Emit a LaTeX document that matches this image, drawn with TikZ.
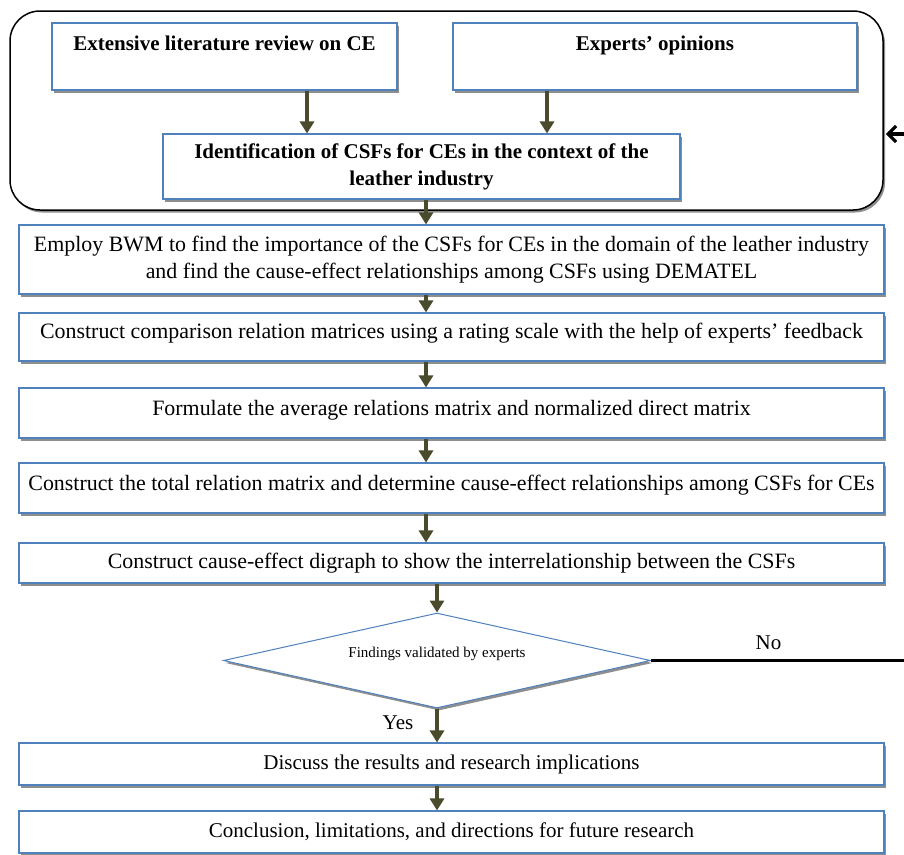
\documentclass[tikz,border=0pt]{standalone}
\usepackage{fontspec}
\setmainfont{Liberation Serif}
\usetikzlibrary{arrows.meta,shadows,shapes.geometric}
\definecolor{boxblue}{HTML}{4F81BD}
\definecolor{arrowc}{HTML}{4A4A2C}
\definecolor{shadowc}{HTML}{8E8E8E}
\begin{document}
\begin{tikzpicture}[x=1pt,y=-1pt,
  shadowed/.style={drop shadow={shadow xshift=2pt,shadow yshift=-2.5pt,fill=shadowc,opacity=1}},
  box/.style={draw=boxblue,line width=1.1pt,fill=white,shadowed,inner sep=0pt,align=center,
    font=\fontsize{21}{27}\selectfont},
  widebox/.style={box,font=\fontsize{21.9}{27}\selectfont},
  boldbox/.style={box,font=\fontsize{21}{27}\selectfont\bfseries},
  outerbox/.style={draw=black,line width=1.5pt,fill=white,rounded corners=30pt,shadowed,inner sep=0pt},
  decision/.style={diamond,draw=boxblue,line width=1pt,fill=white,shadowed,aspect=4.5,inner sep=0pt,
    font=\fontsize{15}{18}\selectfont},
  arr/.style={draw=arrowc,line width=4.5pt,-{Triangle[length=12pt,width=14pt]}},
  backarr/.style={draw=black,line width=3.2pt,-{Straight Barb[length=8pt,width=16pt]}},
  noline/.style={draw=black,line width=3pt},
  lbl/.style={font=\fontsize{21}{25}\selectfont,inner sep=0pt}]
\useasboundingbox (0,0) rectangle (904,854);

\node[outerbox,minimum width=873pt,minimum height=199pt] (outer) at (446.5,110.5) {};

\node[boldbox,minimum width=345pt,minimum height=67pt] (b1) at (224.5,56.5) {Extensive literature review on CE\\\mbox{}};
\node[boldbox,minimum width=404pt,minimum height=67pt] (b2) at (655,56.5) {Experts’ opinions\\\mbox{}};
\node[boldbox,minimum width=517pt,minimum height=65pt] (b3) at (421.5,166.5) {Identification of CSFs for CEs in the context of the\\leather industry};

\node[widebox,minimum width=865pt,minimum height=69pt] (b4) at (451.5,259.5) {Employ BWM to find the importance of the CSFs for CEs in the domain of the leather industry\\and find the cause-effect relationships among CSFs using DEMATEL};
\node[widebox,minimum width=865pt,minimum height=48pt,text depth=13pt] (b5) at (451.5,337) {Construct comparison relation matrices using a rating scale with the help of experts’ feedback};
\node[widebox,minimum width=865pt,minimum height=50pt,text depth=11pt] (b6) at (451.5,413) {Formulate the average relations matrix and normalized direct matrix};
\node[widebox,minimum width=865pt,minimum height=50pt,text depth=11pt] (b7) at (451.5,488) {Construct the total relation matrix and determine cause-effect relationships among CSFs for CEs};
\node[widebox,minimum width=865pt,minimum height=40pt] (b8) at (451.5,563) {Construct cause-effect digraph to show the interrelationship between the CSFs};

\node[decision,minimum width=427pt,minimum height=95pt,text depth=17pt] (d) at (437,660.5) {Findings validated by experts};

\node[box,minimum width=865pt,minimum height=42pt] (b9) at (451.5,764) {Discuss the results and research implications};
\node[box,minimum width=865pt,minimum height=42pt] (b10) at (451.5,832) {Conclusion, limitations, and directions for future research};

% arrows
\draw[arr] ([xshift=82.5pt]b1.south) -- ([xshift=82.5pt]b1.south |- b3.north);
\draw[arr] ([xshift=-108pt]b2.south) -- ([xshift=-108pt]b2.south |- b3.north);
\draw[arr] ([xshift=4.5pt]b3.south) -- ([xshift=4.5pt]b3.south |- b4.north);
\draw[arr] ([xshift=-25.5pt]b4.south) -- ([xshift=-25.5pt]b4.south |- b5.north);
\draw[arr] ([xshift=-25.5pt]b5.south) -- ([xshift=-25.5pt]b5.south |- b6.north);
\draw[arr] ([xshift=-25.5pt]b6.south) -- ([xshift=-25.5pt]b6.south |- b7.north);
\draw[arr] ([xshift=-25.5pt]b7.south) -- ([xshift=-25.5pt]b7.south |- b8.north);
\draw[arr] (b8.south -| d.north) -- (d.north);
\draw[arr] (d.south) -- (d.south |- b9.north);
\draw[arr] (d.south |- b9.south) -- (d.south |- b10.north);

% No branch
\coordinate (noend) at (904,660.5);
\draw[noline] (d.east) -- (noend);
\node[lbl] (nolbl) at (768.5,643) {No};
\node[lbl] (yeslbl) at (398,723) {Yes};

% return arrow
\coordinate (backstart) at (904,134);
\draw[backarr] (backstart) -- ([xshift=2pt]outer.east |- backstart);
\end{tikzpicture}
\end{document}
